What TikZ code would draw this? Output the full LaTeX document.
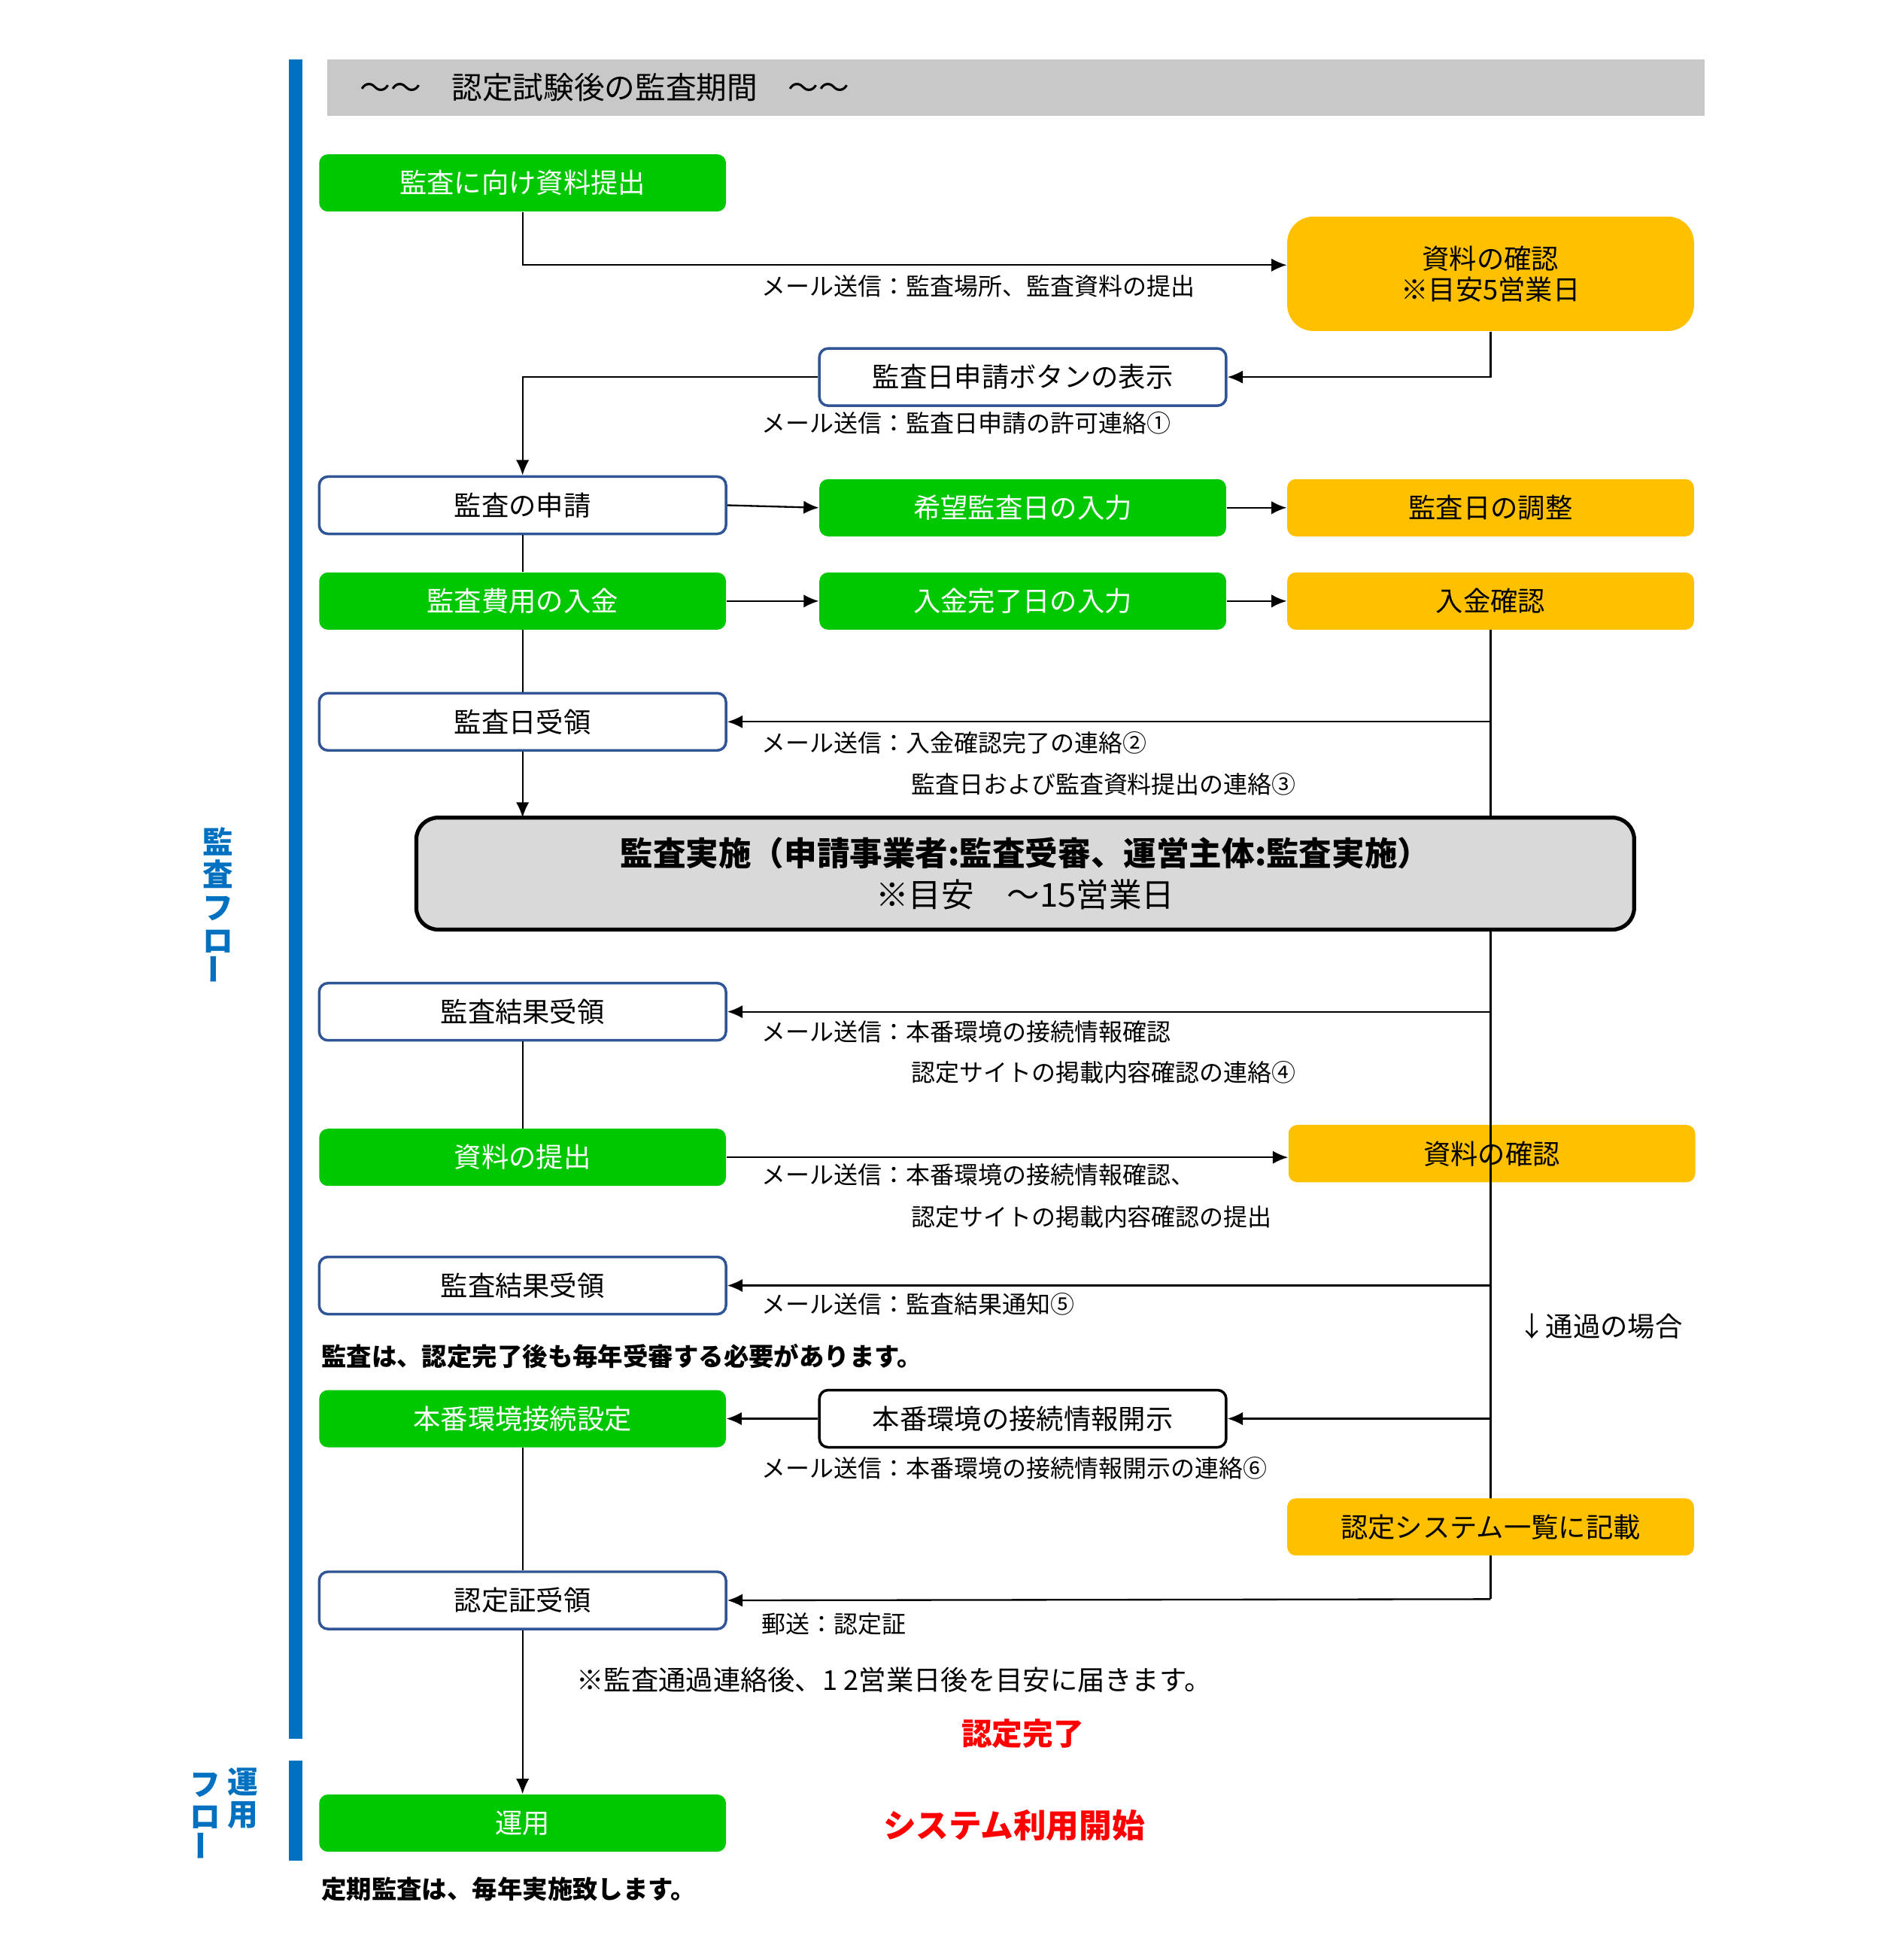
\documentclass[tikz,border=0pt]{standalone}
\usepackage{fontspec}
\setmainfont{Noto Sans CJK JP}
\usetikzlibrary{arrows.meta}
\definecolor{kgreen}{RGB}{0,200,0}
\definecolor{korange}{RGB}{255,192,0}
\definecolor{kblue}{RGB}{47,85,151}
\definecolor{kbar}{RGB}{0,112,192}
\definecolor{khead}{RGB}{200,200,200}
\definecolor{kbig}{RGB}{217,217,217}
\begin{document}
\begin{tikzpicture}
			[
				x = 0.02cm, y = -0.02cm,
				box/.style     = {minimum width=6.54cm, minimum height=0.92cm, inner sep=0pt,
				                  rounded corners=4pt, font=\fontsize{12.5}{14}\selectfont},
				green/.style   = {box, fill=kgreen, text=white},
				orange/.style  = {box, fill=korange},
				white/.style   = {box, draw=kblue, line width=1.2pt, fill=white},
				mail/.style    = {anchor=west, inner sep=0pt, font=\fontsize{11}{13}\selectfont},
				link/.style    = {draw, line width=0.8pt, -{Latex[length=7pt,width=6pt]}},
				line/.style    = {draw, line width=0.8pt}
			]
			\useasboundingbox (0,0) rectangle (1530,1575);
			% side bars
			\fill[kbar] (232,48) rectangle (243,1397);
			\fill[kbar] (232,1415) rectangle (243,1495);
			\node[text=kbar, font=\fontsize{14}{15}\bfseries\selectfont, align=center] (flowA) at (175,728)
				{監\\査\\フ\\ロ\\\rotatebox{90}{ー}};
			\node[text=kbar, font=\fontsize{14}{15}\bfseries\selectfont, align=center] (flowB) at (195,1445) {運\\用};
			\node[text=kbar, font=\fontsize{14}{15}\bfseries\selectfont, align=center] (flowC) at (165,1460)
				{フ\\ロ\\\rotatebox{90}{ー}};
			% header
			\fill[khead] (263,48) rectangle (1370,93);
			\node[anchor=west, font=\fontsize{14}{16}\selectfont] (head) at (283,70) {～～　認定試験後の監査期間　～～};
			% left column
			\node[green]  (submit)   at (420,147)  {監査に向け資料提出};
			\node[white]  (apply)    at (420,406)  {監査の申請};
			\node[green]  (pay)      at (420,483)  {監査費用の入金};
			\node[white]  (dayrecv)  at (420,580)  {監査日受領};
			\node[white]  (resA)     at (420,813)  {監査結果受領};
			\node[green]  (docs)     at (420,930)  {資料の提出};
			\node[white]  (resB)     at (420,1033) {監査結果受領};
			\node[green]  (setup)    at (420,1140) {本番環境接続設定};
			\node[white]  (cert)     at (420,1286) {認定証受領};
			\node[green]  (operate)  at (420,1465) {運用};
			% middle column
			\node[white]  (button)   at (822,303)  {監査日申請ボタンの表示};
			\node[green]  (wish)     at (822,408)  {希望監査日の入力};
			\node[green]  (paydate)  at (822,483)  {入金完了日の入力};
			\node[white, draw=black] (disclose) at (822,1140) {本番環境の接続情報開示};
			% right column
			\node[orange, minimum height=1.84cm, rounded corners=12pt, align=center] (checkA) at (1198,220)
				{資料の確認\\※目安5営業日};
			\node[orange] (adjust)   at (1198,408)  {監査日の調整};
			\node[orange] (payok)    at (1198,483)  {入金確認};
			\node[orange] (checkB)   at (1199,927)  {資料の確認};
			% right trunk behind boxes
			\path[line] (payok.south) -- (1198,1285);
			\node[orange] (listed)   at (1198,1227) {認定システム一覧に記載};
			% big box
			\node[box, minimum width=19.58cm, minimum height=1.8cm, rounded corners=10pt, fill=kbig,
				draw=black, line width=1.8pt, align=center, font=\fontsize{15}{19}\selectfont] (audit) at (824,702)
				{\textbf{監査実施（申請事業者:監査受審、運営主体:監査実施）}\\※目安　～15営業日};
			% connectors
			\path[link] (submit.south) |- (checkA.west |- 0,213);
			\path[link] (checkA.south) |- (button.east);
			\path[link] (button.west) -| (apply.north);
			\path[link] (apply.east) -- (wish.west);
			\path[link] (wish.east) -- (adjust.west);
			\path[link] (pay.east) -- (paydate.west);
			\path[link] (paydate.east) -- (payok.west);
			\path[line] (apply.south) -- (pay.north);
			\path[line] (pay.south) -- (dayrecv.north);
			\path[link] (1198,580) -- (dayrecv.east);
			\path[link] (dayrecv.south) -- (420,657);
			\path[link] (1198,813) -- (resA.east);
			\path[line] (resA.south) -- (docs.north);
			\path[link] (docs.east) -- (checkB.west |- docs.east);
			\path[link] (1198,1033) -- (resB.east);
			\path[link] (1198,1140) -- (disclose.east);
			\path[link] (disclose.west) -- (setup.east);
			\path[line] (setup.south) -- (cert.north);
			\path[link] (1198,1285) -- (cert.east);
			\path[link] (cert.south) -- (operate.north);
			% labels
			\node[mail] (mA) at (612,230)  {メール送信：監査場所、監査資料の提出};
			\node[mail] (mB) at (612,340)  {メール送信：監査日申請の許可連絡①};
			\node[mail] (mC) at (612,597)  {メール送信：入金確認完了の連絡②};
			\node[mail] (mD) at (732,630)  {監査日および監査資料提出の連絡③};
			\node[mail] (mE) at (612,829)  {メール送信：本番環境の接続情報確認};
			\node[mail] (mF) at (732,862)  {認定サイトの掲載内容確認の連絡④};
			\node[mail] (mG) at (612,944)  {メール送信：本番環境の接続情報確認、};
			\node[mail] (mH) at (732,978)  {認定サイトの掲載内容確認の提出};
			\node[mail] (mI) at (612,1048) {メール送信：監査結果通知⑤};
			\node[mail] (mJ) at (612,1180) {メール送信：本番環境の接続情報開示の連絡⑥};
			\node[mail] (mK) at (612,1305) {郵送：認定証};
			\node[mail, font=\fontsize{12.5}{14}\selectfont] (pass) at (1220,1066) {↓通過の場合};
			\node[mail, font=\fontsize{11.5}{13}\bfseries\selectfont] (noteA) at (258,1090) {監査は、認定完了後も毎年受審する必要があります。};
			\node[mail, font=\fontsize{12.5}{14}\selectfont] (noteB) at (463,1350) {※監査通過連絡後、1~2営業日後を目安に届きます。};
			\node[text=red, font=\fontsize{14}{16}\bfseries\selectfont] (done) at (822,1393) {認定完了};
			\node[text=red, font=\fontsize{15}{17}\bfseries\selectfont] (start) at (815,1467) {システム利用開始};
			\node[mail, font=\fontsize{11.5}{13}\bfseries\selectfont] (noteC) at (258,1518) {定期監査は、毎年実施致します。};
		\end{tikzpicture}
\end{document}
